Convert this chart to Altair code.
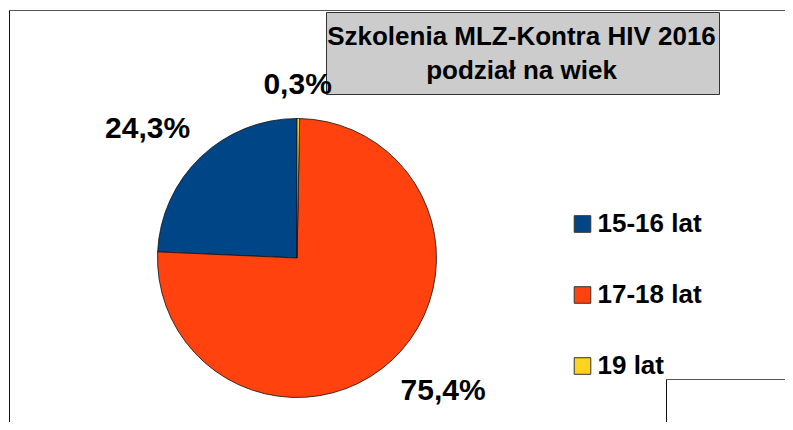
import altair as alt
import pandas as pd

# ---- data ----
categories = ["15-16 lat", "17-18 lat", "19 lat"]
shares = [24.3, 75.4, 0.3]
share_labels = ["24,3%", "75,4%", "0,3%"]
title_lines = ["Szkolenia MLZ-Kontra HIV 2016", "podział na wiek"]

colors = ["#004586", "#ff420e", "#ffd320"]

df = pd.DataFrame({"kategoria": categories, "udzial": shares, "etykieta": share_labels})

FONT = "Liberation Sans"
CX, CY, R = 289, 250, 139.5
W, H = 777, 414
one = alt.Data(values=[{}])

theta = alt.Theta("udzial:Q", stack=True)
order = alt.Order("kategoria:N", sort="descending")


def hline(x1, x2, y, color="#333"):
    return alt.Chart(one).mark_rule(stroke=color, strokeWidth=1).encode(
        x=alt.value(x1), x2=alt.value(x2), y=alt.value(y))


def vline(x, y1, y2, color="#333"):
    return alt.Chart(one).mark_rule(stroke=color, strokeWidth=1).encode(
        x=alt.value(x), y=alt.value(y1), y2=alt.value(y2))


# frame of the chart area (top and left edges visible) and the corner box
frame = [
    hline(1.5, W, 2.5, "#555"),
    vline(1.5, 2.5, H, "#111"),
    hline(658.5, W, 371.5, "#555"),
    vline(658.5, 371.5, H, "#111"),
]

pie = alt.Chart(df).mark_arc(radius=R, stroke="#111", strokeWidth=0.8).encode(
    theta=theta,
    order=order,
    color=alt.Color(
        "kategoria:N",
        scale=alt.Scale(domain=categories, range=colors),
        legend=alt.Legend(
            title=None, orient="none", legendX=561.5, legendY=203,
            symbolType="square", symbolSize=275, symbolStrokeColor="#333",
            symbolStrokeWidth=1, symbolOpacity=1,
            labelFont=FONT, labelFontSize=26, labelFontWeight="bold",
            labelColor="black", rowPadding=45, labelOffset=2, padding=0,
        ),
    ),
    x=alt.value(CX), y=alt.value(CY),
)

label_style = {
    "15-16 lat": dict(radius=190, dx=-18, dy=8),
    "17-18 lat": dict(radius=190, dx=16, dy=-6),
    "19 lat": dict(radius=172, dx=-1, dy=-1),
}

label_layers = []
for cat in categories:
    st = label_style[cat]
    label_layers.append(
        alt.Chart(df).mark_text(
            radius=st["radius"], dx=st["dx"], dy=st["dy"], font=FONT, fontSize=30,
            fontWeight="bold", color="black", align="center", baseline="middle",
        ).encode(
            theta=theta, order=order,
            text=alt.condition(alt.datum.kategoria == cat, alt.Text("etykieta:N"), alt.value("")),
            x=alt.value(CX), y=alt.value(CY),
        )
    )

title_box = alt.Chart(one).mark_rect(fill="#cccccc", stroke="#333", strokeWidth=1).encode(
    x=alt.value(318.5), x2=alt.value(711.5), y=alt.value(4.5), y2=alt.value(86.5))

title_text = alt.Chart(one).mark_text(
    text=title_lines, font=FONT, fontSize=26, fontWeight="bold", color="black",
    align="center", baseline="alphabetic", lineHeight=34.7,
).encode(x=alt.value(513.5), y=alt.value(36.5))

chart = alt.layer(*frame, pie, title_box, *label_layers, title_text).properties(
    width=W, height=H, autosize=alt.AutoSizeParams(type="none"), padding=0,
).configure_view(stroke="transparent", strokeWidth=0)

chart.save("out.html", embed_options={"renderer": "svg", "actions": False})
